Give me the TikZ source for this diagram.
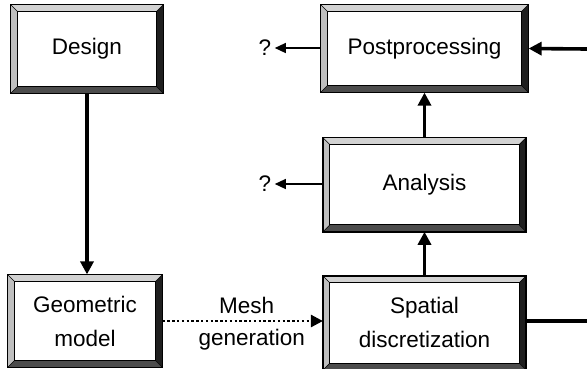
\documentclass[tikz,border=0pt]{standalone}
\usepackage{fontspec}
\setmainfont{Liberation Sans}
\usetikzlibrary{arrows.meta, positioning, calc}

\begin{document}
\begin{tikzpicture}[
		x=1pt, y=-1pt,
		every node/.style={font=\fontsize{22.5}{34}\selectfont},
		block/.style={draw, line width=1.2pt, inner sep=0pt, align=center},
		flow/.style={-{Triangle[length=13pt,width=13pt]}, line width=3.6pt},
		query/.style={-{Triangle[length=11pt,width=10pt]}, line width=1.3pt},
		mesh/.style={-{Triangle[length=12pt,width=12pt]}, line width=2.6pt, dash pattern=on 2.4pt off 2.4pt}
		]
		\useasboundingbox (0,0) rectangle (587,368);
		
		% Left column: Design and geometric model
		\node[block, minimum width=152pt, minimum height=88pt] (design) at (87,49) {Design};
		\node[block, minimum width=154pt, minimum height=92pt] (geom) at (85,321) {Geometric\\model};
		
		% Right column: Postprocessing, analysis, discretization
		\node[block, minimum width=207pt, minimum height=87pt] (post) at (424.5,48.5) {Postprocessing};
		\node[block, minimum width=202pt, minimum height=93pt, below=45pt of post] (anal) {Analysis};
		\node[block, minimum width=202pt, minimum height=93pt, below=44pt of anal] (spat) {Spatial\\discretization};
		
		% Bevelled frames
		\foreach \b in {design, geom, post, anal, spat} {
			\coordinate (nw) at ([xshift=7pt,yshift=-7pt]\b.north west);
			\coordinate (ne) at ([xshift=-7pt,yshift=-7pt]\b.north east);
			\coordinate (sw) at ([xshift=7pt,yshift=7pt]\b.south west);
			\coordinate (se) at ([xshift=-7pt,yshift=7pt]\b.south east);
			\fill[gray!35] (\b.north west) -- (\b.north east) -- (ne) -- (nw) -- cycle;
			\fill[gray!50] (\b.north west) -- (nw) -- (sw) -- (\b.south west) -- cycle;
			\fill[black!88] (\b.north east) -- (\b.south east) -- (se) -- (ne) -- cycle;
			\fill[black!70] (\b.south west) -- (sw) -- (se) -- (\b.south east) -- cycle;
			\draw[line width=0.5pt] (\b.north west) -- (nw) (\b.north east) -- (ne)
				(\b.south west) -- (sw) (\b.south east) -- (se);
			\draw[line width=0.9pt] (nw) rectangle (se);
			\draw[line width=1.4pt] (\b.north west) rectangle (\b.south east);
		}
		
		% Open ends on the right
		\coordinate (loopin) at (587,49);
		\coordinate (loopout) at (587,321);
		
		% Question marks
		\node (q1) at (265,48) {?};
		\node (q2) at (265,184) {?};
		
		% Connectors
		\draw[flow] (design.south) -- (design.south |- geom.north);
		\draw[flow] (spat.north) -- (anal.south);
		\draw[flow] (anal.north) -- (post.south);
		\draw[flow] (loopin) -- (post.east);
		\draw[line width=3.6pt] (spat.east |- loopout) -- (loopout);
		\draw[query] (post.west |- q1) -- (q1.east);
		\draw[query] (anal.west |- q2) -- (q2.east);
		\draw[mesh] (geom.east) -- node[above=3pt, xshift=4pt] {Mesh}
			node[below=4pt, xshift=9pt] {generation} (spat.west |- geom.east);
		
	\end{tikzpicture}
\end{document}
